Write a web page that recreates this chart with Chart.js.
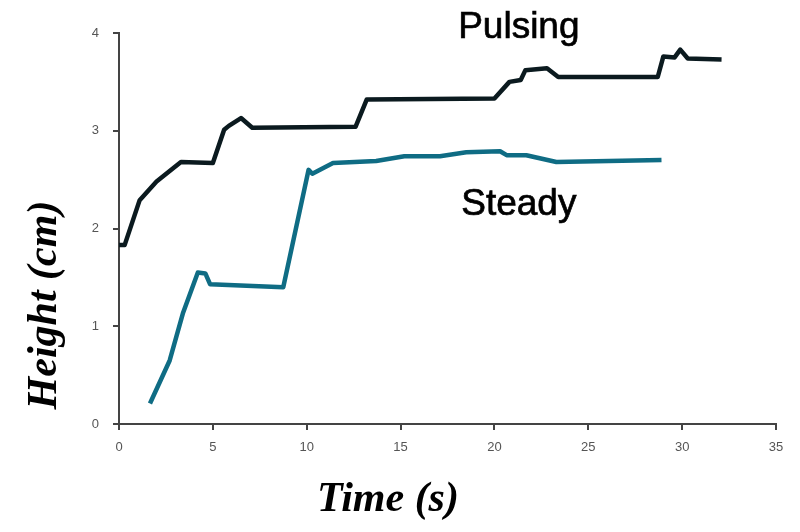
<!DOCTYPE html>
<html>
<head>
<meta charset="utf-8">
<script src="https://cdn.jsdelivr.net/npm/chart.js@4"></script>
<style>
  body { margin: 0; background: #fff; }
  #wrap { width: 800px; height: 532px; }
</style>
</head>
<body>
<div id="wrap"><canvas id="chart"></canvas></div>
<script>
// values
const pulsingT = [0, 0.3, 1.1, 2.0, 3.3, 5.0, 5.6, 5.85, 6.5, 7.1, 12.6, 13.2, 20.0, 20.8, 21.4, 21.65, 22.8, 23.4, 28.7, 29.0, 29.6, 29.9, 30.3, 32.1];
const pulsingH = [1.83, 1.83, 2.29, 2.48, 2.68, 2.67, 3.01, 3.05, 3.13, 3.03, 3.04, 3.32, 3.33, 3.50, 3.52, 3.62, 3.64, 3.55, 3.55, 3.76, 3.75, 3.83, 3.74, 3.73];

const steadyT = [1.65, 2.7, 3.4, 4.2, 4.6, 4.85, 8.75, 10.1, 10.3, 11.4, 13.7, 15.2, 17.1, 18.5, 20.3, 20.65, 21.7, 23.3, 28.9];
const steadyH = [0.21, 0.65, 1.13, 1.55, 1.54, 1.43, 1.40, 2.60, 2.56, 2.67, 2.69, 2.74, 2.74, 2.78, 2.79, 2.75, 2.75, 2.68, 2.70];

const xTicks = [0, 5, 10, 15, 20, 25, 30, 35];
const yTicks = [0, 1, 2, 3, 4];

const toPoints = (ts, hs) => ts.map((t, i) => ({ x: t, y: hs[i] }));

// labels drawn on the canvas (series names + axis titles)
const textPlugin = {
  id: 'texts',
  afterDraw(chart) {
    const { ctx, scales: { x, y } } = chart;
    ctx.save();
    ctx.fillStyle = '#000';
    ctx.strokeStyle = '#000';
    ctx.lineWidth = 0.7;
    ctx.textAlign = 'center';
    ctx.textBaseline = 'middle';
    ctx.font = '37px "Liberation Sans", Arial, sans-serif';
    ctx.fillText('Pulsing', x.getPixelForValue(21.3), y.getPixelForValue(4.05));
    ctx.strokeText('Pulsing', x.getPixelForValue(21.3), y.getPixelForValue(4.05));
    ctx.fillText('Steady', x.getPixelForValue(21.3), y.getPixelForValue(2.24));
    ctx.strokeText('Steady', x.getPixelForValue(21.3), y.getPixelForValue(2.24));

    ctx.font = 'italic bold 42px "Liberation Serif", "Times New Roman", serif';
    ctx.fillText('Time (s)', 388, 500);
    ctx.translate(45, 305);
    ctx.rotate(-Math.PI / 2);
    ctx.fillText('Height (cm)', 0, 0);
    ctx.restore();
  }
};

const tickFont = { family: '"Liberation Sans Narrow", "Arial Narrow", sans-serif', size: 13 };

new Chart(document.getElementById('chart'), {
  type: 'line',
  data: {
    datasets: [
      {
        label: 'Pulsing',
        data: toPoints(pulsingT, pulsingH),
        borderColor: '#0b1a1f',
        borderWidth: 4.5,
        pointRadius: 0,
        tension: 0,
        clip: false,
        borderJoinStyle: 'round'
      },
      {
        label: 'Steady',
        data: toPoints(steadyT, steadyH),
        borderColor: '#0f6c84',
        borderWidth: 4.5,
        pointRadius: 0,
        tension: 0,
        clip: false,
        borderJoinStyle: 'round'
      }
    ]
  },
  options: {
    responsive: true,
    maintainAspectRatio: false,
    animation: false,
    layout: { padding: { top: 33, right: 24, left: 0, bottom: 0 } },
    plugins: {
      legend: { display: false },
      tooltip: { enabled: false }
    },
    scales: {
      x: {
        type: 'linear',
        min: 0,
        max: 35,
        afterBuildTicks: s => { s.ticks = xTicks.map(v => ({ value: v })); },
        afterFit: s => { s.height = 108; },
        grid: { drawOnChartArea: false, tickLength: 6, color: '#444', lineWidth: 2 },
        border: { color: '#444', width: 2 },
        ticks: { color: '#555', font: tickFont, padding: 10, maxRotation: 0 }
      },
      y: {
        min: 0,
        max: 4,
        afterBuildTicks: s => { s.ticks = yTicks.map(v => ({ value: v })); },
        afterFit: s => { s.width = 119; },
        grid: { drawOnChartArea: false, tickLength: 6, color: '#444', lineWidth: 2 },
        border: { color: '#444', width: 2 },
        ticks: { color: '#555', font: tickFont, padding: 14 }
      }
    }
  },
  plugins: [textPlugin]
});
</script>
</body>
</html>
